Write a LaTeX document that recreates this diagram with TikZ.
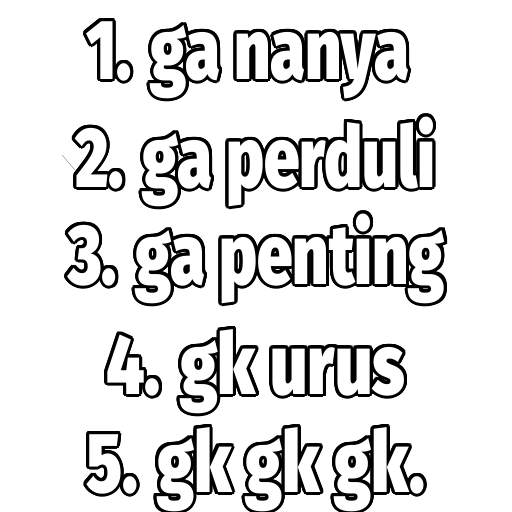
\documentclass[tikz,border=0pt]{standalone}
\usepackage{fontspec}
\newfontfamily\heavyfont{Fira Sans Black}
\newlength\memew
\newcommand\fitw[2]{\settowidth\memew{#2}\pgfmathsetmacro\memesx{#1/\memew}\scalebox{\memesx}[1]{#2}}
\tikzset{memetext/.style={inner sep=0pt, anchor=base west, font=\heavyfont\fontsize{85}{85}\selectfont}}
\newcommand\outlinedline[5]{%
  \foreach \a in {0,15,...,345}{\node[memetext,text=black] at ([shift={(\a:3pt)}]#2pt,-#3pt) {\fitw{#4pt}{#5}};}
  \node[memetext,text=white] (#1) at (#2pt,-#3pt) {\fitw{#4pt}{#5}};}
\begin{document}
\begin{tikzpicture}
\useasboundingbox (0,0) rectangle (512pt,-512pt);
\fill[white] (0,0) rectangle (512pt,-512pt);
\outlinedline{l1}{86}{79}{323}{1. ga nanya}
\outlinedline{l2}{75}{187}{360}{2. ga perduli}
\outlinedline{l3}{68}{284}{377}{3. ga penting}
\outlinedline{l4}{106}{394}{299}{4. gk urus}
\outlinedline{l5}{86}{492}{339}{5. gk gk gk.}
\coordinate (m1) at (62pt,-155pt);
\coordinate (m2) at (75pt,-170pt);
\draw[gray!70, line width=0.6pt] (m1) -- (m2);
\end{tikzpicture}
\end{document}
